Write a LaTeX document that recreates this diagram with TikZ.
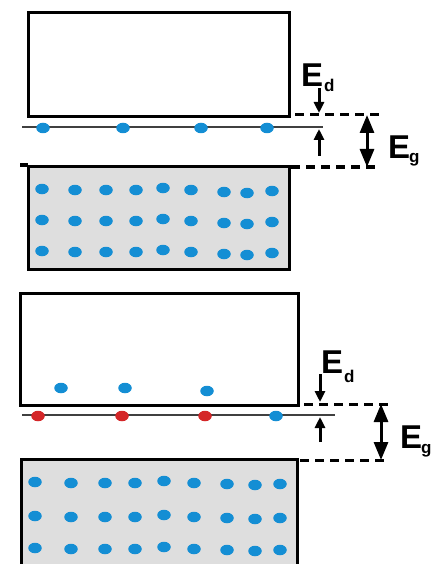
\documentclass[tikz,border=0pt]{standalone}
\usepackage{fontspec}
\setmainfont{Liberation Sans}
\usetikzlibrary{arrows.meta,shapes.geometric}
\definecolor{dotblue}{RGB}{20,142,212}
\definecolor{dotred}{RGB}{212,38,40}
\definecolor{bandgray}{RGB}{222,222,222}
\tikzset{
  band/.style={draw=black, line width=3.2pt},
  lvl/.style={draw=black!75, line width=1.5pt},
  edot/.style={ellipse, fill=dotblue, minimum width=13.5pt, minimum height=10.5pt, inner sep=0pt},
  rdot/.style={ellipse, fill=dotred, minimum width=13.5pt, minimum height=10.5pt, inner sep=0pt},
  dashline/.style={draw=black, line width=3pt, dash pattern=on 9pt off 6pt},
  edarrow/.style={draw=black, line width=3pt, -{Triangle[width=10pt,length=11pt]}},
  egarrow/.style={draw=black, line width=3pt, {Triangle[width=14pt,length=18pt]}-{Triangle[width=14pt,length=18pt]}},
  lbl/.style={inner sep=0pt, font=\fontsize{33}{33}\selectfont\bfseries},
  sub/.style={inner sep=0pt, font=\fontsize{17}{17}\selectfont\bfseries}
}
\begin{document}
\begin{tikzpicture}[x=1pt,y=-1pt]
\useasboundingbox (0,0) rectangle (431,564);
\clip (0,0) rectangle (431,564);
% ================= TOP DIAGRAM =================
\node[band, rectangle, minimum width=261pt, minimum height=104pt, anchor=north west, inner sep=0pt] (cb1) at (27,11) {};
\node[band, rectangle, fill=bandgray, minimum width=261pt, minimum height=103pt, anchor=north west, inner sep=0pt] (vb1) at (27,165) {};
\coordinate (tick1a) at (20,165);
\coordinate (tick1b) at (28,165);
\draw[line width=3.2pt] (tick1a) -- (tick1b);
\coordinate (l1a) at (22,127);
\coordinate (l1b) at (323,127);
\draw[lvl] (l1a) -- (l1b);
\foreach \x [count=\i] in {43,123,201,267}
  \node[edot] (d1\i) at (\x,128) {};
\foreach \yy [count=\r] in {189,220,251}{
  \foreach \x/\o [count=\c] in {42/0,75/1,106/1,136/1,163/-1,191/1,224/3,247/4,272/2}
    \node[edot] (v1\r\c) at (\x,\yy+\o) {};
}
% dashed levels
\coordinate (dt1a) at (295,115);
\coordinate (dt1b) at (379,115);
\coordinate (db1a) at (291,167);
\coordinate (db1b) at (376,167);
\draw[dashline] (dt1a) -- (dt1b);
\draw[dashline] (db1a) -- (db1b);
% Ed arrows
\coordinate (ea1s) at (319,88);
\coordinate (ea1e) at (319,113);
\coordinate (eb1s) at (319,156);
\coordinate (eb1e) at (319,129);
\draw[edarrow] (ea1s) -- (ea1e);
\draw[edarrow] (eb1s) -- (eb1e);
% Eg arrow
\coordinate (eg1s) at (367,115);
\coordinate (eg1e) at (367,167);
\draw[egarrow] (eg1s) -- (eg1e);
\node[lbl, anchor=base west] (Ed1) at (301,87) {E};
\node[sub, anchor=base west] (Ed1s) at (324,92) {d};
\node[lbl, anchor=base west] (Eg1) at (388,158) {E};
\node[sub, anchor=base west] (Eg1s) at (409,163) {g};
% ================= BOTTOM DIAGRAM =================
\node[band, rectangle, minimum width=278pt, minimum height=112pt, anchor=north west, inner sep=0pt] (cb2) at (19,292) {};
\node[band, rectangle, fill=bandgray, minimum width=276pt, minimum height=130pt, anchor=north west, inner sep=0pt] (vb2) at (20,458) {};
\coordinate (l2a) at (22,415);
\coordinate (l2b) at (335,415);
\draw[lvl] (l2a) -- (l2b);
\foreach \x/\y [count=\i] in {61/388,125/388,207/391}
  \node[edot] (c2\i) at (\x,\y) {};
\foreach \x [count=\i] in {38,122,205}
  \node[rdot] (r2\i) at (\x,416) {};
\node[edot] (d24) at (276,416) {};
\foreach \yy [count=\r] in {482,516,548}{
  \foreach \x/\o [count=\c] in {35/0,71/1,105/1,135/1,164/-1,194/1,227/2,255/3,280/2}
    \node[edot] (v2\r\c) at (\x,\yy+\o) {};
}
\coordinate (dt2a) at (304,404);
\coordinate (dt2b) at (393,404);
\coordinate (db2a) at (300,460);
\coordinate (db2b) at (389,460);
\draw[dashline] (dt2a) -- (dt2b);
\draw[dashline] (db2a) -- (db2b);
\coordinate (ea2s) at (320,374);
\coordinate (ea2e) at (320,402);
\coordinate (eb2s) at (320,442);
\coordinate (eb2e) at (320,417);
\draw[edarrow] (ea2s) -- (ea2e);
\draw[edarrow] (eb2s) -- (eb2e);
\coordinate (eg2s) at (381,404);
\coordinate (eg2e) at (381,460);
\draw[egarrow] (eg2s) -- (eg2e);
\node[lbl, anchor=base west] (Ed2) at (321,373) {E};
\node[sub, anchor=base west] (Ed2s) at (344,382) {d};
\node[lbl, anchor=base west] (Eg2) at (400,448) {E};
\node[sub, anchor=base west] (Eg2s) at (421,453) {g};
\end{tikzpicture}
\end{document}
